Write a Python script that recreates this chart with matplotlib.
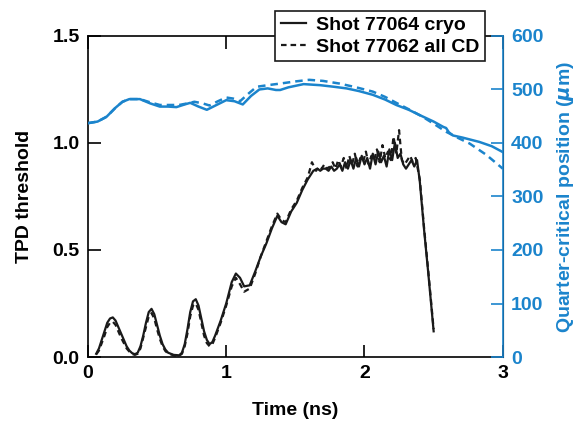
import matplotlib
matplotlib.use('Agg')
import matplotlib.pyplot as plt

plt.rcParams['font.family'] = ['Liberation Sans', 'DejaVu Sans']
plt.rcParams['font.weight'] = 'bold'
plt.rcParams['mathtext.default'] = 'it'

blue = '#1b84cc'

# quarter-critical position (um), right axis
t_pos_cryo = [0.0, 0.07, 0.135, 0.2, 0.25, 0.30, 0.376, 0.45, 0.52, 0.58, 0.64, 0.70,
              0.74, 0.80, 0.86, 0.93, 1.0, 1.06, 1.12, 1.18, 1.24, 1.30, 1.36, 1.39,
              1.45, 1.56, 1.68, 1.78, 1.87, 1.96, 2.06, 2.15, 2.23, 2.32, 2.40, 2.50,
              2.57, 2.59, 2.61, 2.64, 2.71, 2.83, 2.92, 3.0]
pos_cryo = [437, 440, 449, 466, 477, 482, 482, 474, 468, 468, 467, 472,
            475, 468, 462, 471, 480, 478, 472, 488, 500, 502, 499, 499,
            504, 510, 508, 505, 502, 497, 490, 481, 471, 462, 452, 440,
            430, 428, 420, 414, 410, 402, 394, 383]
t_pos_cd = [0.0, 0.07, 0.135, 0.2, 0.25, 0.30, 0.376, 0.45, 0.52, 0.6, 0.66, 0.72,
            0.77, 0.83, 0.88, 0.94, 1.0, 1.05, 1.1, 1.16, 1.22, 1.3, 1.39, 1.5,
            1.6, 1.7, 1.82, 1.94, 2.06, 2.15, 2.23, 2.32, 2.42, 2.5, 2.59, 2.68,
            2.76, 2.88, 3.0]
pos_cd = [437, 440, 449, 466, 477, 482, 482, 476, 471, 471, 471, 474,
          477, 474, 470, 478, 485, 483, 478, 492, 505, 508, 511, 515,
          518, 516, 511, 504, 496, 486, 475, 463, 449, 436, 421, 409,
          399, 378, 352]

# TPD threshold, left axis
t_tpd_cryo = [0.06, 0.08, 0.10, 0.12, 0.14, 0.16, 0.18, 0.20, 0.22, 0.24, 0.26, 0.28,
              0.30, 0.32, 0.34, 0.36, 0.38, 0.40, 0.42, 0.44, 0.46, 0.48, 0.50, 0.52,
              0.54, 0.56, 0.58, 0.62, 0.66, 0.68, 0.70, 0.72, 0.74, 0.76, 0.78, 0.80,
              0.82, 0.84, 0.86, 0.88, 0.90, 0.92, 0.96,
              1.00, 1.04, 1.07, 1.10, 1.13, 1.17, 1.21, 1.25, 1.29, 1.33, 1.37, 1.40,
              1.43, 1.47, 1.51, 1.55, 1.59, 1.63,
              1.66, 1.68, 1.70, 1.72, 1.74, 1.76, 1.78, 1.80, 1.82, 1.84, 1.86, 1.88,
              1.90, 1.92, 1.94, 1.96, 1.98, 2.00, 2.02, 2.04, 2.06, 2.08, 2.10, 2.12,
              2.14, 2.16, 2.18, 2.20, 2.22, 2.24, 2.26, 2.28, 2.30, 2.32, 2.34, 2.36,
              2.38, 2.40, 2.43, 2.46, 2.50]
tpd_cryo = [0.015, 0.04, 0.08, 0.12, 0.16, 0.18, 0.185, 0.17, 0.14, 0.11, 0.08, 0.05,
            0.03, 0.018, 0.013, 0.02, 0.05, 0.10, 0.16, 0.21, 0.225, 0.20, 0.15, 0.10,
            0.06, 0.035, 0.02, 0.01, 0.008, 0.02, 0.06, 0.13, 0.21, 0.26, 0.27, 0.24,
            0.18, 0.12, 0.08, 0.06, 0.07, 0.10, 0.17,
            0.25, 0.35, 0.39, 0.37, 0.33, 0.335, 0.40, 0.47, 0.53, 0.60, 0.66, 0.63,
            0.62, 0.68, 0.72, 0.78, 0.83, 0.87,
            0.88, 0.87, 0.88, 0.88, 0.87, 0.89, 0.87, 0.88, 0.90, 0.87, 0.91, 0.88,
            0.92, 0.88, 0.93, 0.89, 0.94, 0.90, 0.93, 0.88, 0.95, 0.90, 0.96, 0.91,
            0.94, 0.89, 0.97, 0.92, 1.00, 0.93, 0.95, 0.90, 0.88, 0.90, 0.92, 0.89,
            0.92, 0.82, 0.60, 0.40, 0.12]
t_tpd_cd = [0.06, 0.08, 0.10, 0.12, 0.14, 0.16, 0.18, 0.20, 0.22, 0.24, 0.26, 0.28,
            0.30, 0.32, 0.34, 0.36, 0.38, 0.40, 0.42, 0.44, 0.46, 0.48, 0.50, 0.52,
            0.54, 0.56, 0.58, 0.62, 0.66, 0.68, 0.70, 0.72, 0.74, 0.76, 0.78, 0.80,
            0.82, 0.84, 0.86, 0.88, 0.90, 0.92, 0.96,
            1.00, 1.04, 1.07, 1.10, 1.13, 1.17, 1.21, 1.25, 1.29, 1.33, 1.37, 1.40,
            1.43, 1.47, 1.51, 1.55, 1.59, 1.62,
            1.65, 1.67, 1.69, 1.71, 1.73, 1.75, 1.77, 1.79, 1.81, 1.83, 1.85, 1.87,
            1.89, 1.91, 1.93, 1.95, 1.97, 1.99, 2.01, 2.03, 2.05, 2.07, 2.09, 2.11,
            2.13, 2.15, 2.17, 2.19, 2.21, 2.23, 2.25, 2.27, 2.29, 2.31, 2.33, 2.35,
            2.37, 2.40, 2.43, 2.46, 2.50]
tpd_cd = [0.012, 0.03, 0.065, 0.10, 0.14, 0.16, 0.165, 0.15, 0.12, 0.09, 0.065, 0.04,
          0.025, 0.014, 0.01, 0.015, 0.04, 0.09, 0.14, 0.19, 0.205, 0.18, 0.13, 0.085,
          0.05, 0.028, 0.016, 0.008, 0.006, 0.015, 0.05, 0.11, 0.19, 0.24, 0.25, 0.22,
          0.16, 0.10, 0.065, 0.05, 0.06, 0.09, 0.16,
          0.24, 0.33, 0.37, 0.34, 0.305, 0.32, 0.39, 0.47, 0.54, 0.61, 0.67, 0.64,
          0.63, 0.69, 0.73, 0.79, 0.84, 0.91,
          0.87, 0.89, 0.88, 0.90, 0.88, 0.89, 0.91, 0.88, 0.92, 0.89, 0.93, 0.88,
          0.94, 0.90, 0.95, 0.89, 0.93, 0.91, 0.96, 0.90, 0.94, 0.92, 0.97, 0.91,
          0.99, 0.93, 0.96, 0.92, 1.03, 0.95, 1.06, 0.92, 0.90, 0.92, 0.94, 0.91,
          0.93, 0.83, 0.61, 0.41, 0.13]

fig = plt.figure(figsize=(5.86, 4.23), dpi=100)
ax = fig.add_axes([0.150, 0.156, 0.708, 0.759])
ax2 = ax.twinx()

l1, = ax.plot(t_tpd_cryo, tpd_cryo, color='#1a1a1a', lw=1.6, label='Shot 77064 cryo')
l2, = ax.plot(t_tpd_cd, tpd_cd, color='#1a1a1a', lw=1.6, ls=(0, (2.5, 1.8)),
              label='Shot 77062 all CD')
ax2.plot(t_pos_cryo, pos_cryo, color=blue, lw=1.8)
ax2.plot(t_pos_cd, pos_cd, color=blue, lw=1.8, ls=(0, (3, 2)))

ax.set_xlim(0, 3)
ax.set_ylim(0, 1.5)
ax2.set_ylim(0, 600)
ax.set_xticks([0, 1, 2, 3])
ax.set_yticks([0, 0.5, 1.0, 1.5])
ax.set_yticklabels(['0.0', '0.5', '1.0', '1.5'])
ax2.set_yticks([0, 100, 200, 300, 400, 500, 600])

ax.tick_params(axis='both', direction='in', length=9, width=1.2, labelsize=14,
               top=True, pad=6)
ax2.tick_params(axis='y', direction='in', length=9, width=1.2, labelsize=14,
                colors=blue, pad=6)

for s in ['left', 'bottom', 'top']:
    ax.spines[s].set_linewidth(1.2)
ax2.spines['right'].set_color(blue)
ax2.spines['right'].set_linewidth(1.2)
ax2.spines['left'].set_visible(False)
ax2.spines['top'].set_visible(False)
ax2.spines['bottom'].set_visible(False)

ax.set_xlabel('Time (ns)', fontsize=14, fontweight='bold', labelpad=14)
ax.set_ylabel('TPD threshold', fontsize=14, fontweight='bold', labelpad=14)
ax2.set_ylabel(r'Quarter-critical position ($\mu$m)', fontsize=14, fontweight='bold',
               color=blue, labelpad=8)

leg = fig.legend(handles=[l1, l2], loc='center', bbox_to_anchor=(0.648, 0.915),
                 fontsize=14, frameon=True, fancybox=False, framealpha=1,
                 edgecolor='#1a1a1a', handlelength=1.3, handletextpad=0.5,
                 borderpad=0.3, labelspacing=0.2, borderaxespad=0)
leg.get_frame().set_linewidth(1.2)

fig.savefig('out.png', dpi=100)
